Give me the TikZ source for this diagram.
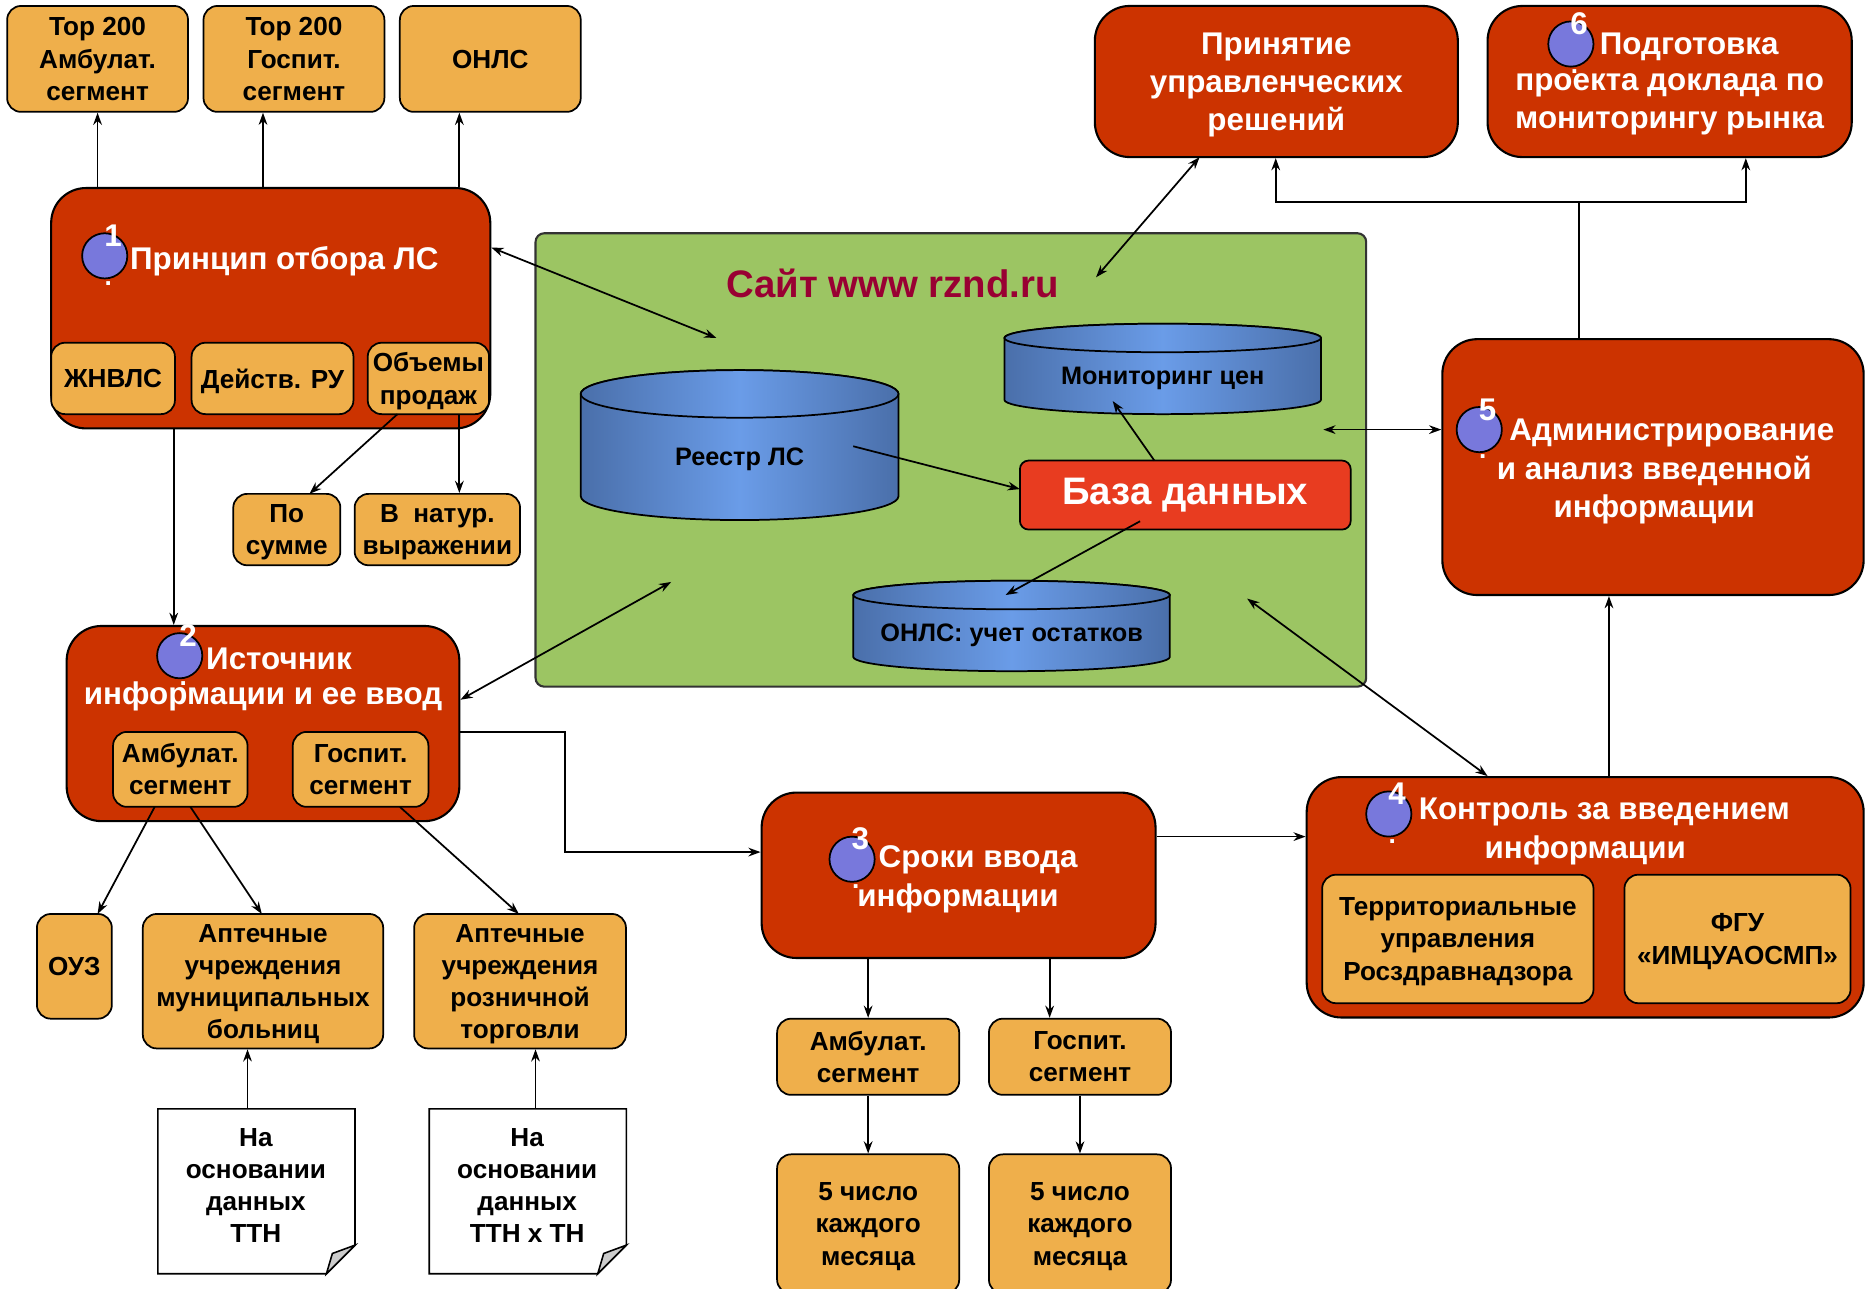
\documentclass[tikz,border=0pt]{standalone}
\usepackage{fontspec}
\setmainfont{Liberation Sans}
\usetikzlibrary{arrows.meta,calc}
\definecolor{redb}{HTML}{CC3300}
\definecolor{orb}{HTML}{EFAF4B}
\definecolor{grn}{HTML}{9CC563}
\definecolor{bcirc}{HTML}{7878DC}
\definecolor{dbred}{HTML}{E83C20}
\definecolor{sitecol}{HTML}{990033}
\definecolor{cyldark}{HTML}{4A6FAA}
\definecolor{cyllight}{HTML}{6A9CE8}
\newcommand\fb{\fontsize{15}{18.4}\selectfont\bfseries}
\newcommand\ft{\fontsize{18}{21.8}\selectfont\bfseries}
\newcommand\fc{\fontsize{14.5}{17}\selectfont\bfseries}
\newcommand\bx[7][]{%
  \pgfmathsetmacro\bxw{(#4-#2)*0.024}%
  \pgfmathsetmacro\bxh{(#5-#3)*0.024}%
  \node[#1,minimum width=\bxw cm,minimum height=\bxh cm,inner sep=0pt] (#6) at ({(#2+#4)/2},{(#3+#5)/2}) {#7};}
\newcommand\cyl[7]{%
  \shade[left color=cyldark,right color=cyldark,middle color=cyllight,draw=black,line width=1pt]
    (#2,#4) -- (#2,#5) arc[start angle=180,end angle=0,x radius={(#3-#2)/2},y radius=#6]
    -- (#3,#4) arc[start angle=0,end angle=-180,x radius={(#3-#2)/2},y radius=#6] -- cycle;
  \shade[left color=cyldark,right color=cyldark,middle color=cyllight,draw=black,line width=1pt]
    ({(#2+#3)/2},#4) ellipse[x radius={(#3-#2)/2},y radius=#6];
  \node[font=\fc,text=black] (#1) at ({(#2+#3)/2},{(#4+#5)/2+#6/2+2}) {#7};}
\begin{document}
\begin{tikzpicture}[x=0.024cm,y=-0.024cm,
  orbox/.style={fill=orb,draw=black,line width=1pt,rounded corners=8pt,font=\fb,align=center,text=black,text depth=0pt},
  redbox/.style={fill=redb,draw=black,line width=1.2pt,rounded corners=20pt,font=\ft,align=center,text=white},
  ttl/.style={font=\ft,text=white,align=center,inner sep=0pt,yshift=-0.06cm},
  numc/.style={circle,fill=bcirc,draw=black,line width=1pt,minimum size=0.912cm,inner sep=0pt},
  numt/.style={font=\ft,text=white,inner sep=0pt},
  dott/.style={font=\fb,text=white,inner sep=0pt},
  docbox/.style={font=\fb,align=center,text=black},
  arr/.style={-{Stealth[length=7pt,width=5pt]},line width=1pt},
  barr/.style={{Stealth[length=7pt,width=5pt]}-{Stealth[length=7pt,width=5pt]},line width=1pt},
  ln/.style={line width=1pt}]
\useasboundingbox (0,0) rectangle (1568,1083);

% ---------- top-left orange boxes ----------
\bx[orbox]{6}{5}{158}{94}{a1}{Top 200\\Амбулат.\\сегмент}
\bx[orbox]{171}{5}{323}{94}{a2}{Top 200\\Госпит.\\сегмент}
\bx[orbox]{336}{5}{488}{94}{a3}{ОНЛС}

% ---------- box 1 ----------
\bx[redbox]{43}{158}{412}{360}{p1}{}
\node[numc] (c1) at (88,215) {};
\node[numt] (n1) at (95,198) {1};
\node[dott] (o1) at (91,238) {.};
\node[ttl,anchor=west] (t1) at (109,217) {Принцип отбора ЛС};
\bx[orbox]{43}{288}{147}{348}{s11}{ЖНВЛС}
\bx[orbox]{161}{288}{297}{348}{s12}{Действ. РУ}
\bx[orbox]{309}{288}{411}{348}{s13}{Объемы\\продаж}
\bx[orbox]{196}{415}{286}{475}{s14}{По\\сумме}
\bx[orbox]{298}{415}{437}{475}{s15}{В~~натур.\\выражении}

\coordinate (xa2) at (221,0);
\coordinate (xa3) at (386,0);
\draw[arr] (p1.north -| a1.south) -- (a1.south);
\draw[arr] (p1.north -| xa2) -- (a2.south -| xa2);
\draw[arr] (p1.north -| xa3) -- (a3.south -| xa3);
\coordinate (q13) at (334,348);
\coordinate (q14) at (260,415);
\draw[arr] (q13) -- (q14);
\draw[arr] (s13.south -| xa3) -- (s15.north -| xa3);

% ---------- box 2 ----------
\bx[redbox]{56}{526}{386}{690}{p2}{}
\node[numc] (c2) at (151,551) {};
\node[numt] (n2) at (158,534) {2};
\node[dott] (o2) at (154,574) {.};
\node[ttl,anchor=west] (t2a) at (173,551) {Источник};
\node[ttl] (t2b) at (221,583) {информации и ее ввод};
\bx[orbox]{95}{615}{208}{678}{s21}{Амбулат.\\сегмент}
\bx[orbox]{246}{615}{360}{678}{s22}{Госпит.\\сегмент}
\coordinate (x146) at (146,0);
\draw[arr] (p1.south -| x146) -- (p2.north -| x146);

\bx[orbox]{31}{768}{94}{856}{oyz}{ОУЗ}
\bx[orbox]{120}{768}{322}{881}{ap1}{Аптечные\\учреждения\\муниципальных\\больниц}
\bx[orbox]{348}{768}{526}{881}{ap2}{Аптечные\\учреждения\\розничной\\торговли}
\coordinate (r1) at (130,678);
\coordinate (r2) at (160,678);
\coordinate (r3) at (336,678);
\coordinate (e1) at (82,768);
\coordinate (e2) at (220,768);
\coordinate (e3) at (436,768);
\draw[arr] (r1) -- (e1);
\draw[arr] (r2) -- (e2);
\draw[arr] (r3) -- (e3);

% documents
\bx[docbox]{133}{932}{298}{1070}{d1}{}
\bx[docbox]{361}{932}{526}{1070}{d2}{}
\foreach \d in {d1,d2}{
  \draw[fill=white,line width=0.9pt] (\d.north west) -- (\d.north east) -- ($(\d.south east)+(0,-24)$) -- ($(\d.south east)+(-24,0)$) -- (\d.south west) -- cycle;
  \draw[fill=black!20,line width=0.9pt] ($(\d.south east)+(0,-24)$) -- ($(\d.south east)+(-24,0)$) -- ($(\d.south east)+(-19,-17)$) -- cycle;
}
\node[docbox] (d1t) at (215,996) {На\\основании\\данных\\ТТН};
\node[docbox] (d2t) at (443,996) {На\\основании\\данных\\ТТН х ТН};
\coordinate (x208) at (208,0);
\coordinate (x450) at (450,0);
\draw[arr] (d1.north -| x208) -- (ap1.south -| x208);
\draw[arr] (d2.north -| x450) -- (ap2.south -| x450);

% ---------- site ----------
\bx[fill=grn,draw=black!80,line width=1.2pt,rounded corners=5pt]{450}{196}{1148}{577}{site}{}
\node[font=\fontsize{22}{25}\selectfont\bfseries,text=sitecol] (stitle) at (750,238) {Сайт www rznd.ru};
\cyl{reg}{488}{755}{331}{417}{20}{Реестр ЛС}
\cyl{mon}{844}{1110}{284}{336}{12}{Мониторинг цен}
\cyl{onl}{717}{983}{500}{552}{12}{ОНЛС: учет остатков}
\bx[fill=dbred,draw=black,line width=1pt,rounded corners=5pt,text=white,font=\fontsize{22}{26}\selectfont\bfseries]{857}{387}{1135}{445}{db}{База данных}
\coordinate (g1) at (717,375);
\coordinate (g2) at (857,411);
\coordinate (g3) at (970,387);
\coordinate (g4) at (935,337);
\coordinate (g5) at (958,438);
\coordinate (g6) at (845,500);
\draw[arr] (g1) -- (g2);
\draw[arr] (g3) -- (g4);
\draw[arr] (g5) -- (g6);

% ---------- top-right ----------
\bx[redbox,text depth=0pt]{920}{5}{1225}{132}{pr}{Принятие\\управленческих\\решений}
\bx[redbox]{1250}{5}{1556}{132}{pd}{}
\node[numc] (c6) at (1320,37) {};
\node[numt] (n6) at (1327,20) {6};
\node[dott] (o6) at (1323,60) {.};
\node[ttl,anchor=west] (t6a) at (1344,37) {Подготовка};
\node[ttl] (t6b) at (1403,85) {проекта доклада по\\мониторингу рынка};

% ---------- admin ----------
\bx[redbox]{1212}{285}{1566}{500}{ad}{}
\node[numc] (c5) at (1243,361) {};
\node[numt] (n5) at (1250,344) {5};
\node[dott] (o5) at (1246,384) {.};
\node[ttl,anchor=west] (t5a) at (1268,361) {Администрирование};
\node[ttl] (t5b) at (1390,409) {и анализ введенной\\информации};

% ---------- box 3 ----------
\bx[redbox]{640}{666}{971}{805}{sr}{}
\node[numc] (c3) at (716,722) {};
\node[numt] (n3) at (723,705) {3};
\node[dott] (o3) at (719,745) {.};
\node[ttl,anchor=west] (t3a) at (738,720) {Сроки ввода};
\node[ttl] (t3b) at (805,752) {информации};
\bx[orbox]{653}{856}{806}{920}{b1}{Амбулат.\\сегмент}
\bx[orbox]{831}{856}{984}{920}{b2}{Госпит.\\сегмент}
\bx[orbox]{653}{970}{806}{1087}{m1}{5 число\\каждого\\месяца}
\bx[orbox]{831}{970}{984}{1087}{m2}{5 число\\каждого\\месяца}
\coordinate (x882) at (882,0);
\draw[arr] (sr.south -| b1.north) -- (b1.north);
\draw[arr] (sr.south -| x882) -- (b2.north -| x882);
\draw[arr] (b1.south) -- (m1.north);
\draw[arr] (b2.south) -- (m2.north);

% ---------- box 4 ----------
\bx[redbox]{1098}{653}{1566}{855}{kt}{}
\node[numc] (c4) at (1167,684) {};
\node[numt] (n4) at (1174,667) {4};
\node[dott] (o4) at (1170,707) {.};
\node[ttl,anchor=west] (t4a) at (1192,680) {Контроль за введением};
\node[ttl] (t4b) at (1332,712) {информации};
\bx[orbox]{1111}{735}{1339}{843}{k1}{Территориальные\\управления\\Росздравнадзора}
\bx[orbox]{1365}{735}{1555}{843}{k2}{ФГУ\\«ИМЦУАОСМП»}

% ---------- connectors between blocks ----------
\coordinate (y615) at (0,615);
\coordinate (y716) at (0,716);
\coordinate (x475) at (475,0);
\draw[arr] (p2.east |- y615) -| (x475 |- y716) -- (sr.west |- y716);
\coordinate (y703) at (0,703);
\draw[arr] (sr.east |- y703) -- (kt.west |- y703);
\coordinate (x1352) at (1352,0);
\draw[arr] (kt.north -| x1352) -- (ad.south -| x1352);
\coordinate (x1327) at (1327,0);
\coordinate (y170) at (0,170);
\coordinate (x1072) at (1072,0);
\coordinate (x1467) at (1467,0);
\draw[ln] (ad.north -| x1327) -- (x1327 |- y170);
\draw[arr] (x1327 |- y170) -| (pr.south -| x1072);
\draw[arr] (x1327 |- y170) -| (pd.south -| x1467);

% bidirectional to site
\coordinate (y208) at (0,208);
\coordinate (h1) at (602,284);
\draw[barr] (p1.east |- y208) -- (h1);
\coordinate (y588) at (0,588);
\coordinate (h2) at (564,489);
\draw[barr] (p2.east |- y588) -- (h2);
\coordinate (k1008) at (1008,132);
\coordinate (h3) at (921,233);
\draw[barr] (k1008) -- (h3);
\coordinate (y361) at (0,361);
\coordinate (h4) at (1112,361);
\draw[barr] (ad.west |- y361) -- (h4);
\coordinate (x1250) at (1250,0);
\coordinate (h5) at (1048,503);
\draw[barr] (kt.north -| x1250) -- (h5);
\end{tikzpicture}
\end{document}
